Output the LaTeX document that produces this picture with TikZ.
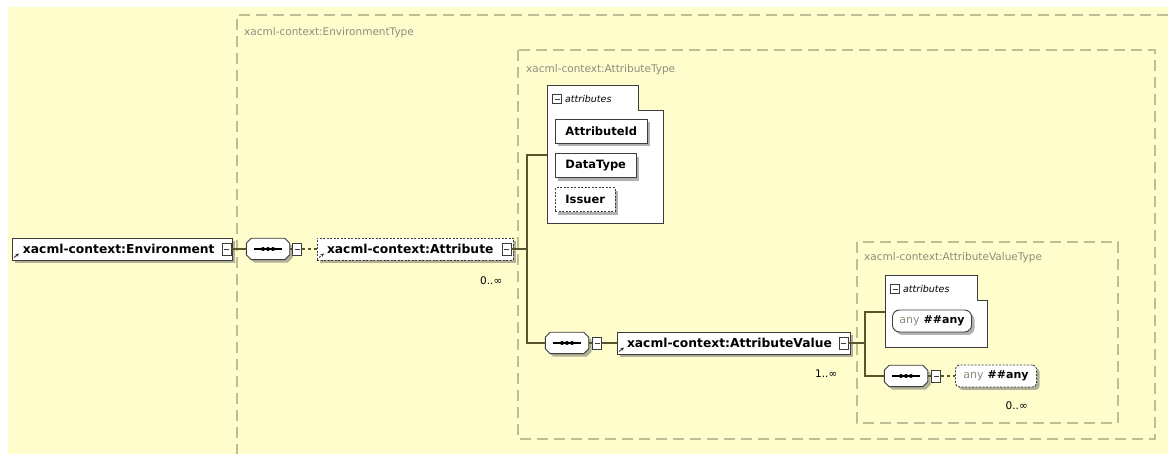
\documentclass[tikz,border=0pt]{standalone}
\usepackage{fontspec}
\setmainfont{DejaVu Sans}
\usetikzlibrary{arrows.meta, positioning, shadows}

\definecolor{paper}{RGB}{255,253,204}
\definecolor{frameline}{RGB}{190,190,150}
\definecolor{typegray}{RGB}{140,140,125}
\definecolor{boxline}{RGB}{60,60,60}
\definecolor{connline}{RGB}{88,84,46}

% octagon round a sequence node
\newcommand{\octagon}[1]{([xshift=5pt]#1.north west) -- ([xshift=-5pt]#1.north east)
  -- ([yshift=-5pt]#1.north east) -- ([yshift=5pt]#1.south east)
  -- ([xshift=-5pt]#1.south east) -- ([xshift=5pt]#1.south west)
  -- ([yshift=5pt]#1.south west) -- ([yshift=-5pt]#1.north west) -- cycle}
\newcommand{\seqshape}[1]{%
  \fill[black!60, opacity=.5, transform canvas={shift={(3pt,-3pt)}}] \octagon{#1};
  \filldraw[fill=white, draw=boxline, line width=0.9pt] \octagon{#1};
  \draw[line width=1.1pt] ([xshift=8pt]#1.west) -- ([xshift=-8pt]#1.east);
  \foreach \dx in {-5,0,5} \fill ([xshift=\dx pt]#1.center) circle (2pt);
}

\begin{document}
\begin{tikzpicture}[
    x=1pt, y=-1pt,
    typebox/.style={draw=frameline, line width=1.3pt, dash pattern=on 11pt off 6pt},
    typelabel/.style={anchor=west, text=typegray, inner sep=0pt,
                      font=\fontsize{10.5}{12}\selectfont},
    boxshadow/.style={drop shadow={shadow xshift=3pt, shadow yshift=-3pt,
                      opacity=.5, fill=black!60}},
    elem/.style={draw=boxline, fill=white, line width=0.9pt, boxshadow,
                 font=\bfseries\fontsize{12.3}{14}\selectfont, align=left,
                 minimum height=22pt, inner sep=0pt},
    optional/.style={dash pattern=on 2pt off 1.5pt},
    refmark/.style={path picture={
        \draw[-{Stealth[length=3.5pt, width=3.5pt]}, line width=0.9pt]
          ([shift={(2pt,2.5pt)}]path picture bounding box.south west) -- ++(5pt,4pt);}},
    btn/.style={draw=boxline, fill=white, line width=0.8pt, minimum width=9pt,
                minimum height=12pt, inner sep=0pt, path picture={
        \draw[boxline, line width=0.9pt]
          ([xshift=2pt]path picture bounding box.west) -- ([xshift=-2pt]path picture bounding box.east);}},
    iconbox/.style={btn, minimum height=9pt},
    seq/.style={minimum width=43pt, minimum height=21pt, inner sep=0pt},
    panel/.style={draw=boxline, fill=white, line width=0.9pt},
    paneltitle/.style={font=\itshape\fontsize{9.5}{11}\selectfont, inner sep=0pt},
    itembox/.style={draw=boxline, fill=white, line width=0.9pt, boxshadow,
                    font=\bfseries\fontsize{11.5}{13}\selectfont,
                    minimum height=24pt, inner xsep=10pt, inner ysep=0pt},
    anybox/.style={itembox, rounded corners=7pt, font=\bfseries\fontsize{11}{13}\selectfont,
                   minimum height=22pt, inner xsep=7pt},
    conn/.style={draw=connline, line width=1.1pt},
    occ/.style={font=\fontsize{10.5}{12}\selectfont, inner sep=0pt, anchor=east},
  ]
    \useasboundingbox (0,0) rectangle (1168,454);
    \fill[paper] (8,7) rectangle (1168,454);

    % type frames
    \draw[typebox] (1168,15) -- (237,15) -- (237,454);
    \node[typelabel] (envtype) at (244,33) {xacml-context:EnvironmentType};
    \draw[typebox] (518,50) rectangle (1155,439);
    \node[typelabel] (attrtype) at (526,70) {xacml-context:AttributeType};
    \draw[typebox] (857,242) rectangle (1118,423);
    \node[typelabel] (avtype) at (864,258) {xacml-context:AttributeValueType};

    % Environment -> Attribute
    \node[elem, refmark, minimum width=220pt, text width=198pt] (env) at (122,249) {xacml-context:Environment};
    \node[btn] (envbtn) at ([xshift=-6pt]env.east) {};
    \node[seq] (seq1) at (268,249) {};
    \seqshape{seq1}
    \node[btn] (seq1btn) at (297,249) {};
    \node[elem, optional, refmark, minimum width=196pt, text width=176pt] (attr) at (415,249) {xacml-context:Attribute};
    \node[btn] (attrbtn) at ([xshift=-7pt]attr.east) {};
    \node[occ] (attrocc) at ([shift={(-11pt,-20pt)}]attr.south east) {0..∞};
    \coordinate (fork1) at (527,249);

    % attributes of Attribute
    \draw[panel] (547,85) -- (638,85) -- (638,110) -- (663,110) -- (663,223) -- (547,223) -- cycle;
    \coordinate (attrs1) at (547,155);
    \node[iconbox] (attrs1ic) at (557,99) {};
    \node[paneltitle, right=3pt of attrs1ic] (attrs1tl) {attributes};
    \node[itembox, anchor=west] (attrid) at (555,131) {AttributeId};
    \node[itembox, anchor=north west] (datatype) at ([yshift=-10pt]attrid.south west) {DataType};
    \node[itembox, optional, anchor=north west] (issuer) at ([yshift=-9pt]datatype.south west) {Issuer};

    % AttributeValue
    \node[seq] (seq2) at (567,343) {};
    \seqshape{seq2}
    \node[btn] (seq2btn) at (597,343) {};
    \node[elem, refmark, minimum width=233pt, text width=213pt] (av) at (733.5,343) {xacml-context:AttributeValue};
    \node[btn] (avbtn) at ([xshift=-7pt]av.east) {};
    \node[occ] (avocc) at ([shift={(-13pt,-19pt)}]av.south east) {1..∞};
    \coordinate (fork2) at (865,343);

    % attributes and content of AttributeValue
    \draw[panel] (885,275) -- (977,275) -- (977,300) -- (987,300) -- (987,347) -- (885,347) -- cycle;
    \coordinate (attrs2) at (885,312);
    \node[iconbox] (attrs2ic) at (895,289) {};
    \node[paneltitle, right=3pt of attrs2ic] (attrs2tl) {attributes};
    \node[anybox] (anyattr) at (932,321) {{\mdseries\color{typegray}any}\hspace{4pt}\#\#any};
    \node[seq] (seq3) at (906,376) {};
    \seqshape{seq3}
    \node[btn] (seq3btn) at (936,376) {};
    \node[anybox, optional, rounded corners=4pt, inner xsep=8pt] (anyel) at (996,376) {{\mdseries\color{typegray}any}\hspace{4pt}\#\#any};
    \node[occ] (anyocc) at ([shift={(-9pt,-18pt)}]anyel.south east) {0..∞};

    % connectors
    \draw[conn] (envbtn) -- (seq1);
    \draw[conn] (seq1) -- (seq1btn);
    \draw[conn, dashed] (seq1btn) -- (attr);
    \draw[conn] (attrbtn) -- (fork1);
    \draw[conn] (attrs1) -| (fork1) |- (seq2);
    \draw[conn] (seq2) -- (seq2btn);
    \draw[conn] (seq2btn) -- (av);
    \draw[conn] (avbtn) -- (fork2);
    \draw[conn] (attrs2) -| (fork2) |- (seq3);
    \draw[conn] (seq3) -- (seq3btn);
    \draw[conn, dashed] (seq3btn) -- (anyel);
  \end{tikzpicture}
\end{document}
